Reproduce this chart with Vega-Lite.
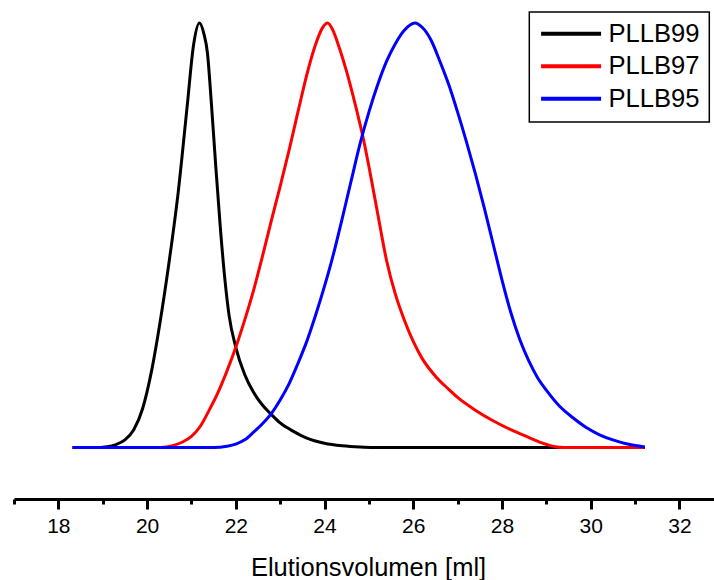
{
  "$schema": "https://vega.github.io/schema/vega-lite/v6.json",
  "width": 700,
  "height": 499,
  "autosize": {"type": "none"},
  "padding": {"left": 14, "top": 0, "right": 0, "bottom": 81},
  "background": "white",
  "config": {"view": {"stroke": null}, "font": "Liberation Sans"},
  "data": {"values": [
    {"series":"PLLB99","v":18.32,"s":0},{"series":"PLLB99","v":18.8,"s":0},{"series":"PLLB99","v":19.1,"s":0.002},{"series":"PLLB99","v":19.3,"s":0.007},{"series":"PLLB99","v":19.5,"s":0.018},{"series":"PLLB99","v":19.7,"s":0.042},{"series":"PLLB99","v":19.9,"s":0.092},{"series":"PLLB99","v":20.1,"s":0.18},{"series":"PLLB99","v":20.3,"s":0.3},{"series":"PLLB99","v":20.5,"s":0.44},{"series":"PLLB99","v":20.7,"s":0.6},{"series":"PLLB99","v":20.9,"s":0.8},{"series":"PLLB99","v":21.05,"s":0.95},{"series":"PLLB99","v":21.18,"s":1.0},{"series":"PLLB99","v":21.28,"s":0.975},{"series":"PLLB99","v":21.36,"s":0.93},{"series":"PLLB99","v":21.45,"s":0.81},{"series":"PLLB99","v":21.55,"s":0.66},{"series":"PLLB99","v":21.65,"s":0.52},{"series":"PLLB99","v":21.75,"s":0.4},{"series":"PLLB99","v":21.85,"s":0.31},{"series":"PLLB99","v":22.0,"s":0.236},{"series":"PLLB99","v":22.2,"s":0.172},{"series":"PLLB99","v":22.4,"s":0.13},{"series":"PLLB99","v":22.6,"s":0.1},{"series":"PLLB99","v":22.8,"s":0.078},{"series":"PLLB99","v":23.0,"s":0.058},{"series":"PLLB99","v":23.3,"s":0.038},{"series":"PLLB99","v":23.6,"s":0.022},{"series":"PLLB99","v":24.0,"s":0.01},{"series":"PLLB99","v":24.4,"s":0.004},{"series":"PLLB99","v":24.8,"s":0.001},{"series":"PLLB99","v":25.1,"s":0},{"series":"PLLB99","v":31.22,"s":0},
    {"series":"PLLB97","v":18.32,"s":0},{"series":"PLLB97","v":20.3,"s":0},{"series":"PLLB97","v":20.6,"s":0.005},{"series":"PLLB97","v":20.8,"s":0.013},{"series":"PLLB97","v":21.0,"s":0.026},{"series":"PLLB97","v":21.2,"s":0.05},{"series":"PLLB97","v":21.4,"s":0.088},{"series":"PLLB97","v":21.6,"s":0.13},{"series":"PLLB97","v":21.8,"s":0.18},{"series":"PLLB97","v":22.0,"s":0.236},{"series":"PLLB97","v":22.2,"s":0.3},{"series":"PLLB97","v":22.4,"s":0.37},{"series":"PLLB97","v":22.6,"s":0.45},{"series":"PLLB97","v":22.8,"s":0.534},{"series":"PLLB97","v":23.0,"s":0.615},{"series":"PLLB97","v":23.2,"s":0.7},{"series":"PLLB97","v":23.4,"s":0.79},{"series":"PLLB97","v":23.6,"s":0.878},{"series":"PLLB97","v":23.8,"s":0.95},{"series":"PLLB97","v":23.95,"s":0.988},{"series":"PLLB97","v":24.07,"s":1.0},{"series":"PLLB97","v":24.18,"s":0.985},{"series":"PLLB97","v":24.3,"s":0.952},{"series":"PLLB97","v":24.5,"s":0.885},{"series":"PLLB97","v":24.7,"s":0.805},{"series":"PLLB97","v":24.88,"s":0.725},{"series":"PLLB97","v":25.05,"s":0.635},{"series":"PLLB97","v":25.2,"s":0.55},{"series":"PLLB97","v":25.4,"s":0.44},{"series":"PLLB97","v":25.6,"s":0.36},{"series":"PLLB97","v":25.8,"s":0.3},{"series":"PLLB97","v":26.0,"s":0.25},{"series":"PLLB97","v":26.2,"s":0.21},{"series":"PLLB97","v":26.5,"s":0.168},{"series":"PLLB97","v":26.8,"s":0.137},{"series":"PLLB97","v":27.0,"s":0.118},{"series":"PLLB97","v":27.4,"s":0.088},{"series":"PLLB97","v":27.8,"s":0.063},{"series":"PLLB97","v":28.2,"s":0.042},{"series":"PLLB97","v":28.6,"s":0.024},{"series":"PLLB97","v":28.9,"s":0.011},{"series":"PLLB97","v":29.2,"s":0.002},{"series":"PLLB97","v":29.4,"s":0},{"series":"PLLB97","v":31.22,"s":0},
    {"series":"PLLB95","v":18.32,"s":0},{"series":"PLLB95","v":21.5,"s":0},{"series":"PLLB95","v":21.8,"s":0.003},{"series":"PLLB95","v":22.0,"s":0.008},{"series":"PLLB95","v":22.2,"s":0.018},{"series":"PLLB95","v":22.4,"s":0.036},{"series":"PLLB95","v":22.6,"s":0.056},{"series":"PLLB95","v":22.8,"s":0.08},{"series":"PLLB95","v":23.0,"s":0.112},{"series":"PLLB95","v":23.2,"s":0.15},{"series":"PLLB95","v":23.4,"s":0.198},{"series":"PLLB95","v":23.6,"s":0.25},{"series":"PLLB95","v":23.8,"s":0.312},{"series":"PLLB95","v":24.0,"s":0.38},{"series":"PLLB95","v":24.2,"s":0.455},{"series":"PLLB95","v":24.4,"s":0.54},{"series":"PLLB95","v":24.6,"s":0.628},{"series":"PLLB95","v":24.8,"s":0.715},{"series":"PLLB95","v":25.0,"s":0.79},{"series":"PLLB95","v":25.2,"s":0.855},{"series":"PLLB95","v":25.4,"s":0.91},{"series":"PLLB95","v":25.6,"s":0.952},{"series":"PLLB95","v":25.8,"s":0.983},{"series":"PLLB95","v":26.04,"s":1.0},{"series":"PLLB95","v":26.2,"s":0.99},{"series":"PLLB95","v":26.4,"s":0.96},{"series":"PLLB95","v":26.6,"s":0.91},{"series":"PLLB95","v":26.8,"s":0.855},{"series":"PLLB95","v":27.0,"s":0.79},{"series":"PLLB95","v":27.2,"s":0.72},{"series":"PLLB95","v":27.4,"s":0.645},{"series":"PLLB95","v":27.6,"s":0.565},{"series":"PLLB95","v":27.8,"s":0.48},{"series":"PLLB95","v":28.0,"s":0.395},{"series":"PLLB95","v":28.2,"s":0.318},{"series":"PLLB95","v":28.4,"s":0.255},{"series":"PLLB95","v":28.6,"s":0.205},{"series":"PLLB95","v":28.8,"s":0.165},{"series":"PLLB95","v":29.0,"s":0.135},{"series":"PLLB95","v":29.3,"s":0.097},{"series":"PLLB95","v":29.6,"s":0.07},{"series":"PLLB95","v":29.9,"s":0.047},{"series":"PLLB95","v":30.2,"s":0.03},{"series":"PLLB95","v":30.5,"s":0.018},{"series":"PLLB95","v":30.8,"s":0.009},{"series":"PLLB95","v":31.05,"s":0.004},{"series":"PLLB95","v":31.22,"s":0.001}
  ]},
  "mark": {"type": "line", "strokeWidth": 3, "interpolate": "monotone"},
  "encoding": {
    "x": {
      "field": "v", "type": "quantitative",
      "scale": {"domain": [17, 32.78], "nice": false, "zero": false},
      "axis": {
        "values": [17,18,19,20,21,22,23,24,25,26,27,28,29,30,31,32],
        "labelExpr": "datum.value % 2 === 0 ? datum.label : ''",
        "tickSize": {"condition": {"test": "datum.value % 2 === 0", "value": 10}, "value": 5},
        "tickWidth": 3,
        "tickColor": "black",
        "domainWidth": 3,
        "domainColor": "black",
        "grid": false,
        "labelFontSize": 21,
        "labelColor": "black",
        "labelPadding": 6,
        "labelFlush": false,
        "title": "Elutionsvolumen [ml]",
        "titleFontSize": 25.5,
        "titleFontWeight": "normal",
        "titleColor": "black",
        "titlePadding": 19,
        "titleX": 354
      }
    },
    "y": {
      "field": "s", "type": "quantitative",
      "scale": {"domain": [-0.1213, 1.0542], "nice": false, "zero": false},
      "axis": null
    },
    "color": {
      "field": "series", "type": "nominal",
      "scale": {"domain": ["PLLB99", "PLLB97", "PLLB95"], "range": ["#000000", "#ff0000", "#0000ff"]},
      "legend": {
        "orient": "none",
        "legendX": 515.3,
        "legendY": 12,
        "title": null,
        "symbolType": "M-1,0H5",
        "symbolSize": 400,
        "symbolStrokeWidth": 4,
        "symbolFillColor": "transparent",
        "labelFontSize": 25.6,
        "labelColor": "black",
        "labelOffset": 44.5,
        "rowPadding": 5.5,
        "padding": 9,
        "strokeColor": "black",
        "encode": {"legend": {"update": {"strokeWidth": {"value": 1.5}}}}
      }
    }
  }
}
